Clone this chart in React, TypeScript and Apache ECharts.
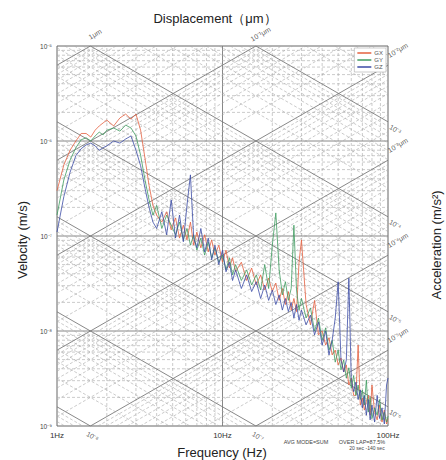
import React, { useEffect, useRef } from "react";
import * as echarts from "echarts";

// ---- data ----
const freq = [
  1.0, 1.1, 1.2, 1.3, 1.4, 1.5, 1.6, 1.7, 1.8, 1.9,
  2.0, 2.2, 2.4, 2.6, 2.8, 3.0, 3.2, 3.4, 3.6, 3.8,
  4.0, 4.3, 4.6, 4.9, 5.2, 5.5, 5.8, 6.1, 6.4, 6.7,
  7.0, 7.4, 7.8, 8.2, 8.6, 9.0, 9.5, 10, 10.5, 11,
  11.5, 12, 13, 14, 15, 16, 17, 18, 19, 20,
  21, 22, 23, 24, 25, 26, 27, 28, 29, 30,
  32, 34, 36, 38, 40, 42, 44, 46, 48, 50,
  52, 54, 56, 58, 60, 62, 64, 66, 68, 70,
  72, 74, 76, 78, 80, 83, 86, 89, 92, 95,
  98, 100,
];
const gx = [
  3.0e-7, 5.6e-7, 8.0e-7, 1.0e-6, 1.2e-6, 1.2e-6, 1.1e-6, 1.3e-6, 1.44e-6, 1.55e-6,
  1.66e-6, 1.44e-6, 1.75e-6, 1.92e-6, 1.7e-6, 1.92e-6, 1.3e-6, 6.6e-7, 3.4e-7, 2.1e-7,
  1.66e-7, 1.4e-7, 1.8e-7, 1.16e-7, 1.55e-7, 9.5e-8, 1.3e-7, 9.1e-8, 1.4e-7, 8.0e-8,
  1.1e-7, 7.5e-8, 1.03e-7, 6.8e-8, 9.1e-8, 6.3e-8, 8.0e-8, 5.3e-8, 7.1e-8, 4.6e-8,
  5.9e-8, 4.2e-8, 5.3e-8, 3.4e-8, 4.6e-8, 3.05e-8, 3.9e-8, 2.7e-8, 3.6e-8, 2.6e-8,
  3.2e-8, 2.1e-8, 2.8e-8, 1.9e-8, 2.6e-8, 1.66e-8, 2.2e-8, 1.6e-8, 5.3e-8, 9.1e-8,
  1.9e-8, 1.16e-8, 2.1e-8, 9.1e-9, 1.0e-8, 7.1e-9, 8.5e-9, 5.6e-9, 6.3e-9, 4.4e-9,
  5.2e-9, 3.7e-9, 4.4e-9, 2.7e-9, 3.2e-9, 2.1e-9, 2.1e-9, 7.1e-9, 1.66e-9, 1.97e-9,
  1.47e-9, 1.8e-9, 2.1e-9, 1.3e-9, 2.7e-9, 1.4e-9, 1.16e-9, 1.66e-9, 1.1e-9, 1.47e-9,
  1.05e-9, 1.2e-9,
];
const gy = [
  1.66e-7, 3.9e-7, 6.3e-7, 8.5e-7, 1.03e-6, 1.08e-6, 1.0e-6, 1.13e-6, 1.24e-6, 1.16e-6,
  1.3e-6, 1.37e-6, 1.27e-6, 1.47e-6, 1.37e-6, 1.13e-6, 7.1e-7, 3.9e-7, 2.4e-7, 1.66e-7,
  2.1e-7, 1.2e-7, 1.66e-7, 1.3e-7, 1.03e-7, 1.4e-7, 9.1e-8, 1.2e-7, 8.0e-8, 1.03e-7,
  7.1e-8, 9.5e-8, 6.3e-8, 8.7e-8, 5.9e-8, 7.5e-8, 5.3e-8, 6.3e-8, 4.4e-8, 5.9e-8,
  3.9e-8, 5.0e-8, 3.4e-8, 4.4e-8, 3.05e-8, 3.9e-8, 2.7e-8, 5.0e-8, 2.8e-8, 8.0e-8,
  1.75e-7, 4.4e-8, 2.4e-8, 3.3e-8, 2.1e-8, 2.8e-8, 1.3e-7, 2.7e-8, 1.66e-8, 2.2e-8,
  1.37e-8, 1.75e-8, 1.0e-8, 1.37e-8, 8.0e-9, 1.08e-8, 6.3e-9, 8.0e-9, 4.7e-9, 6.3e-9,
  3.9e-9, 4.95e-9, 3.2e-9, 4.1e-9, 2.5e-9, 3.4e-9, 2.1e-9, 2.7e-9, 1.9e-9, 2.4e-9,
  1.66e-9, 3.05e-9, 1.4e-9, 2.0e-9, 1.2e-9, 1.55e-9, 1.3e-9, 1.9e-9, 1.16e-9, 1.4e-9,
  1.1e-9, 1.27e-9,
];
const gz = [
  1.1e-7, 2.6e-7, 4.7e-7, 7.0e-7, 8.3e-7, 9.1e-7, 9.5e-7, 8.9e-7, 8.0e-7, 8.5e-7,
  8.9e-7, 1.0e-6, 9.5e-7, 1.05e-6, 1.13e-6, 8.0e-7, 5.5e-7, 3.2e-7, 2.0e-7, 1.4e-7,
  1.2e-7, 1.8e-7, 1.03e-7, 2.4e-7, 9.5e-8, 1.66e-7, 8.7e-8, 2.1e-7, 4.4e-7, 9.5e-8,
  7.5e-8, 1.2e-7, 6.8e-8, 9.5e-8, 5.6e-8, 8.0e-8, 5.0e-8, 7.1e-8, 4.2e-8, 5.3e-8,
  3.4e-8, 4.4e-8, 2.8e-8, 3.9e-8, 2.6e-8, 3.3e-8, 2.2e-8, 3.05e-8, 2.1e-8, 2.7e-8,
  1.9e-8, 2.4e-8, 1.66e-8, 2.2e-8, 1.6e-8, 2.0e-8, 1.37e-8, 1.9e-8, 1.3e-8, 1.66e-8,
  1.16e-8, 1.47e-8, 9.1e-9, 1.24e-8, 7.1e-9, 1.0e-8, 5.6e-9, 8.0e-9, 1.37e-8, 3.3e-8,
  4.95e-9, 3.7e-9, 4.95e-9, 3.6e-8, 3.05e-9, 2.3e-9, 2.9e-9, 1.9e-9, 2.4e-9, 1.55e-9,
  2.1e-9, 1.3e-9, 1.9e-9, 1.16e-9, 1.66e-9, 1.1e-9, 2.1e-9, 1.2e-9, 1.55e-9, 1.05e-9,
  2.7e-9, 3.2e-9,
];
const seriesNames = ["GX", "GY", "GZ"];
const seriesColors = ["#e5603f", "#3f9c60", "#3b4ba6"];

// ---- axes / tripartite grid definitions ----
const freqMin = 1;
const freqMax = 100;
const velMin = 1e-9;
const velMax = 1e-5;
const freqTicks = [1, 10, 100];
const freqTickLabels = ["1Hz", "10Hz", "100Hz"];
const freqDecades = [1, 10];
const velDecades = [1e-9, 1e-8, 1e-7, 1e-6];
const mantissas = [1, 2, 3, 4, 5, 6, 7, 8, 9];
const dispDecades = [1e-12, 1e-11, 1e-10, 1e-9, 1e-8, 1e-7, 1e-6]; // metres
const accDecades = [1e-9, 1e-8, 1e-7, 1e-6, 1e-5, 1e-4, 1e-3]; // m/s^2

const topDispLabels = [
  { d: 1e-6, text: "1μm" },
  { d: 1e-7, text: "10⁻¹μm" },
];
const rightDispLabels = [
  { d: 1e-8, text: "10⁻²μm" },
  { d: 1e-9, text: "10⁻³μm" },
  { d: 1e-10, text: "10⁻⁴μm" },
  { d: 1e-11, text: "10⁻⁵μm" },
];
const rightAccLabels = [
  { a: 1e-3, text: "10⁻³" },
  { a: 1e-4, text: "10⁻⁴" },
  { a: 1e-5, text: "10⁻⁵" },
  { a: 1e-6, text: "10⁻⁶" },
];
const bottomAccLabels = [
  { a: 1e-8, text: "10⁻⁸" },
  { a: 1e-7, text: "10⁻⁷" },
];

const SUP: Record<string, string> = {
  "-": "⁻", "0": "⁰", "1": "¹", "2": "²", "3": "³", "4": "⁴",
  "5": "⁵", "6": "⁶", "7": "⁷", "8": "⁸", "9": "⁹",
};
const sup = (n: number) => String(n).split("").map((c) => SUP[c] || c).join("");

const TWO_PI = 2 * Math.PI;

function dispSeg(D: number) {
  const lo = Math.max(freqMin, velMin / (TWO_PI * D));
  const hi = Math.min(freqMax, velMax / (TWO_PI * D));
  if (lo >= hi) return null;
  return [[lo, TWO_PI * lo * D], [hi, TWO_PI * hi * D]];
}
function accSeg(A: number) {
  const lo = Math.max(freqMin, A / (TWO_PI * velMax));
  const hi = Math.min(freqMax, A / (TWO_PI * velMin));
  if (lo >= hi) return null;
  return [[lo, A / (TWO_PI * lo)], [hi, A / (TWO_PI * hi)]];
}

function refLine(data: number[][], solid: boolean) {
  return {
    type: "line",
    data,
    symbol: "none",
    silent: true,
    clip: true,
    z: 1,
    lineStyle: solid
      ? { color: "#7a7a7a", width: 0.9, type: "solid" }
      : { color: "#a8a8a8", width: 0.6, type: [3, 2] },
  };
}

const labelStyle = { fontSize: 7, color: "#333", align: "center", verticalAlign: "middle" };

export default function App() {
  const ref = useRef<HTMLDivElement>(null);

  useEffect(() => {
    document.body.style.margin = "0";
    if (!ref.current) return;
    const chart = echarts.init(ref.current, undefined, { renderer: "svg" });

    const series: any[] = [];
    freqDecades.forEach((dec) => {
      mantissas.forEach((m) => {
        const f = dec * m;
        if (f <= freqMin || f >= freqMax) return;
        series.push(refLine([[f, velMin], [f, velMax]], m === 1));
      });
    });
    velDecades.forEach((dec) => {
      mantissas.forEach((m) => {
        const v = dec * m;
        if (v <= velMin || v >= velMax) return;
        series.push(refLine([[freqMin, v], [freqMax, v]], m === 1));
      });
    });
    dispDecades.forEach((dec) => {
      mantissas.forEach((m) => {
        const s = dispSeg(dec * m);
        if (s) series.push(refLine(s, m === 1));
      });
    });
    accDecades.forEach((dec) => {
      mantissas.forEach((m) => {
        const s = accSeg(dec * m);
        if (s) series.push(refLine(s, m === 1));
      });
    });

    [gx, gy, gz].forEach((vals, i) => {
      series.push({
        type: "line",
        name: seriesNames[i],
        data: freq.map((f, j) => [f, vals[j]]),
        symbol: "none",
        z: 3,
        clip: true,
        lineStyle: { color: seriesColors[i], width: 0.8 },
        itemStyle: { color: seriesColors[i] },
      });
    });

    const labelItems: any[] = [];
    topDispLabels.forEach((l) => {
      const f = velMax / (TWO_PI * l.d);
      labelItems.push({ value: [f, velMax], label: { ...labelStyle, show: true, formatter: l.text, rotate: 30, offset: [10, -8] } });
    });
    rightDispLabels.forEach((l) => {
      labelItems.push({ value: [freqMax, TWO_PI * freqMax * l.d], label: { ...labelStyle, show: true, formatter: l.text, rotate: 30, offset: [16, -8] } });
    });
    rightAccLabels.forEach((l) => {
      labelItems.push({ value: [freqMax, l.a / (TWO_PI * freqMax)], label: { ...labelStyle, show: true, formatter: l.text, rotate: -30, offset: [10, 3] } });
    });
    bottomAccLabels.forEach((l) => {
      const f = l.a / (TWO_PI * velMin);
      labelItems.push({ value: [f, velMin], label: { ...labelStyle, show: true, formatter: l.text, rotate: -30, offset: [7, 8] } });
    });
    series.push({
      type: "scatter",
      data: labelItems,
      symbolSize: 1,
      clip: false,
      silent: true,
      z: 5,
      itemStyle: { color: "rgba(0,0,0,0)" },
      label: { show: true, position: "inside", ...labelStyle },
    });

    chart.setOption({
      animation: false,
      textStyle: { fontFamily: "Liberation Sans, Arial, sans-serif" },
      grid: { left: 57, right: 58, top: 46, bottom: 34, show: true, borderColor: "#666", borderWidth: 1, backgroundColor: "#fff" },
      legend: {
        data: seriesNames,
        orient: "vertical",
        right: 60,
        top: 48,
        itemWidth: 14,
        itemHeight: 1.5,
        itemGap: 1,
        icon: "rect",
        padding: [2, 3],
        borderColor: "#999",
        borderWidth: 0.5,
        backgroundColor: "#fff",
        textStyle: { fontSize: 6, color: "#555", padding: [0, 0, 0, -2] },
      },
      xAxis: {
        type: "log",
        logBase: 10,
        min: freqMin,
        max: freqMax,
        axisLine: { show: false },
        axisTick: { show: false },
        splitLine: { show: false },
        axisLabel: {
          fontSize: 8,
          color: "#333",
          margin: 5,
          formatter: (v: number) => {
            const i = freqTicks.findIndex((t) => Math.abs(Math.log10(t) - Math.log10(v)) < 1e-6);
            return i >= 0 ? freqTickLabels[i] : "";
          },
        },
      },
      yAxis: {
        type: "log",
        logBase: 10,
        min: velMin,
        max: velMax,
        axisLine: { show: false },
        axisTick: { show: false },
        splitLine: { show: false },
        axisLabel: {
          fontSize: 6.5,
          color: "#444",
          margin: 5,
          formatter: (v: number) => "10" + sup(Math.round(Math.log10(v))),
        },
      },
      graphic: [
        { type: "text", x: 215, y: 18, style: { text: "Displacement（μm）", fontSize: 13, fill: "#222", align: "center", verticalAlign: "middle", fontFamily: "Liberation Sans, Arial, sans-serif" } },
        { type: "text", x: 22, y: 240, rotation: Math.PI / 2, style: { text: "Velocity (m/s)", fontSize: 13, fill: "#222", align: "center", verticalAlign: "middle", fontFamily: "Liberation Sans, Arial, sans-serif" } },
        { type: "text", x: 436, y: 245, rotation: Math.PI / 2, style: { text: "Acceleration (m/s²)", fontSize: 13, fill: "#222", align: "center", verticalAlign: "middle", fontFamily: "Liberation Sans, Arial, sans-serif" } },
        { type: "text", x: 222, y: 452, style: { text: "Frequency (Hz)", fontSize: 13, fill: "#222", align: "center", verticalAlign: "middle", fontFamily: "Liberation Sans, Arial, sans-serif" } },
        { type: "text", x: 306, y: 442, style: { text: "AVG MODE=SUM", fontSize: 5.5, fill: "#444", align: "center", verticalAlign: "middle" } },
        { type: "text", x: 362, y: 442, style: { text: "OVER LAP=87.5%", fontSize: 5.5, fill: "#444", align: "center", verticalAlign: "middle" } },
        { type: "text", x: 367, y: 448, style: { text: "20 sec -140 sec", fontSize: 5, fill: "#444", align: "center", verticalAlign: "middle" } },
      ],
      series,
    });

    return () => chart.dispose();
  }, []);

  return <div ref={ref} style={{ width: 446, height: 460 }} />;
}
